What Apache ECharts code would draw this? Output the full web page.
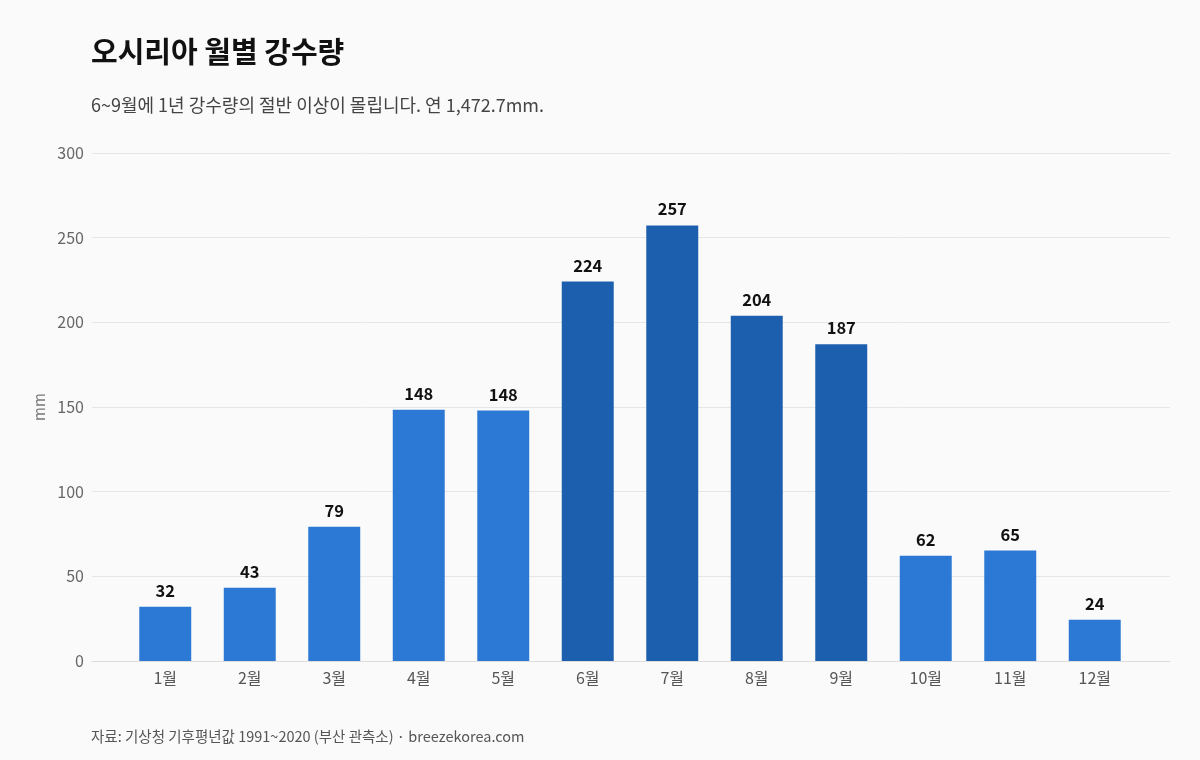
<!DOCTYPE html>
<html>
<head>
<meta charset="utf-8">
<script src="https://cdn.jsdelivr.net/npm/echarts@6/dist/echarts.min.js"></script>
<style>
  html, body { margin: 0; padding: 0; background: #fafafa; }
  #chart { width: 1200px; height: 760px; }
</style>
</head>
<body>
<div id="chart"></div>
<script>
// 월별 강수량 (mm)
var months = ['1월','2월','3월','4월','5월','6월','7월','8월','9월','10월','11월','12월'];
var rain = [32.1, 43.2, 79.3, 148.4, 147.9, 224.1, 257.2, 203.9, 187.1, 62.2, 65.2, 24.3];
var wetMonths = ['6월','7월','8월','9월'];
var yTicks = [0, 50, 100, 150, 200, 250, 300];

var FONT = '"Noto Sans CJK KR", "Noto Sans", sans-serif';

var myChart = echarts.init(document.getElementById('chart'));

var barData = rain.map(function(v, i){
  var wet = wetMonths.indexOf(months[i]) >= 0;
  return { value: v, itemStyle: { color: wet ? '#1c5fae' : '#2b78d5' } };
});

var yMin = yTicks[0], yMax = yTicks[yTicks.length - 1];

var option = {
  backgroundColor: '#fafafa',
  textStyle: { fontFamily: FONT },
  title: [
    {
      text: '오시리아 월별 강수량',
      left: 86, top: 32,
      textStyle: { fontSize: 29, fontWeight: 'bold', color: '#111', fontFamily: FONT }
    },
    {
      text: '6~9월에 1년 강수량의 절반 이상이 몰립니다. 연 1,472.7mm.',
      left: 86, top: 91,
      textStyle: { fontSize: 18, fontWeight: 'normal', color: '#444', fontFamily: FONT }
    },
    {
      text: '자료: 기상청 기후평년값 1991~2020 (부산 관측소) · breezekorea.com',
      left: 86, top: 724,
      textStyle: { fontSize: 14.5, fontWeight: 'normal', color: '#555', fontFamily: FONT }
    }
  ],
  // grid 0: 눈금선/축선, grid 1: 막대
  grid: [
    { left: 92, right: 30, top: 153, bottom: 99 },
    { left: 123, right: 63, top: 153, bottom: 99 }
  ],
  xAxis: [
    {
      gridIndex: 0,
      type: 'value',
      min: 0, max: 1,
      axisLine: { show: true, onZero: false, lineStyle: { color: '#dddddd' } },
      axisTick: { show: false },
      axisLabel: { show: false },
      splitLine: { show: false }
    },
    {
      gridIndex: 1,
      type: 'category',
      data: months,
      axisLine: { show: false },
      axisTick: { show: false },
      axisLabel: { color: '#555', fontSize: 16, margin: 9, fontFamily: FONT }
    }
  ],
  yAxis: [
    {
      gridIndex: 0,
      type: 'value',
      min: yMin,
      max: yMax,
      interval: 50,
      name: 'mm',
      nameLocation: 'middle',
      nameGap: 45,
      nameRotate: 90,
      nameTextStyle: { color: '#777', fontSize: 15, fontFamily: FONT },
      axisLine: { show: false },
      axisTick: { show: false },
      axisLabel: { color: '#666', fontSize: 16, margin: 8, fontFamily: FONT },
      splitLine: { lineStyle: { color: '#e6e6e6', width: 1 } }
    },
    {
      gridIndex: 1,
      type: 'value',
      min: yMin,
      max: yMax,
      interval: 50,
      show: false,
      splitLine: { show: false }
    }
  ],
  series: [{
    type: 'bar',
    xAxisIndex: 1,
    yAxisIndex: 1,
    data: barData,
    barWidth: '61.5%',
    label: {
      show: true,
      position: 'top',
      distance: 8,
      color: '#111',
      fontSize: 16.5,
      fontWeight: 'bold',
      fontFamily: FONT,
      formatter: function(p){ return Math.round(p.value); }
    }
  }]
};

myChart.setOption(option);
</script>
</body>
</html>
